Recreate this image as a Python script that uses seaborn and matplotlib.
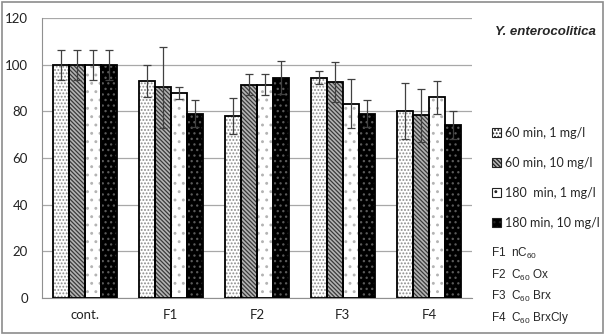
import numpy as np
import pandas as pd
import matplotlib
matplotlib.use("Agg")
import matplotlib.pyplot as plt
import seaborn as sns
from matplotlib.patches import Patch, Rectangle

# data
groups = ["cont.", "F1", "F2", "F3", "F4"]
series = ["60 min, 1 mg/l", "60 min, 10 mg/l", "180  min, 1 mg/l", "180 min, 10 mg/l"]
v_60_1 = [100, 93.0, 78.0, 94.5, 80.0]
v_60_10 = [100, 90.3, 91.5, 92.7, 78.3]
v_180_1 = [100, 88.0, 91.5, 83.3, 86.0]
v_180_10 = [100, 79.0, 94.5, 79.0, 74.0]
e_60_1 = [6.5, 7.0, 7.7, 2.9, 12.0]
e_60_10 = [6.5, 17.5, 4.5, 8.6, 11.4]
e_180_1 = [6.5, 2.6, 4.5, 10.5, 7.0]
e_180_10 = [6.5, 5.7, 7.2, 5.7, 6.0]
notes = ["F1  nC$\\mathregular{_{60}}$", "F2  C$\\mathregular{_{60}}$ Ox",
         "F3  C$\\mathregular{_{60}}$ Brx", "F4  C$\\mathregular{_{60}}$ BrxCly"]

vals = [v_60_1, v_60_10, v_180_1, v_180_10]
errs = [e_60_1, e_60_10, e_180_1, e_180_10]
df = pd.DataFrame({
    "group": groups * 4,
    "series": np.repeat(series, 5),
    "value": sum(vals, []),
})

# face colour, hatch colour, hatch
styles = [("white", "#8c8c8c", "....."),
          ("#b4b4b4", "#3a3a3a", "\\\\\\\\\\\\\\\\"),
          ("white", "#b4b4b4", ".."),
          ("black", "#5a5a5a", "...")]

sns.set_style("white")
plt.rcParams["font.family"] = ["Lato", "DejaVu Sans"]
plt.rcParams["hatch.linewidth"] = 0.9

fig = plt.figure(figsize=(6.05, 3.35), dpi=100)
ax = fig.add_axes([0.069, 0.110, 0.711, 0.836])

sns.barplot(data=df, x="group", y="value", hue="series", order=groups,
            hue_order=series, width=0.74, errorbar=None, ax=ax, legend=False,
            palette=["white"] * 4)

bar_sets = list(ax.containers)
for k, cont in enumerate(bar_sets):
    fc, hc, h = styles[k]
    xs, hs = [], []
    for p in cont:
        p.set_facecolor(fc)
        p.set_edgecolor(hc)
        p.set_hatch(h)
        p.set_linewidth(0)
        ax.add_patch(Rectangle(p.get_xy(), p.get_width(), p.get_height(),
                               fill=False, ec="black", lw=1.3, zorder=3))
        xs.append(p.get_x() + p.get_width() / 2)
        hs.append(p.get_height())
    ax.errorbar(xs, hs, yerr=errs[k], fmt="none", ecolor="#404040",
                elinewidth=0.9, capsize=3, capthick=0.9, zorder=4)

ax.set_ylim(0, 120)
ax.set_xlim(-0.5, 4.5)
ax.set_yticks(range(0, 121, 20))
ax.yaxis.grid(True, color="#a8a8a8", lw=0.9)
ax.set_axisbelow(True)
ax.set_xlabel("")
ax.set_ylabel("")
for s in ["top", "right"]:
    ax.spines[s].set_visible(False)
for s in ["left", "bottom"]:
    ax.spines[s].set_color("#909090")
ax.tick_params(axis="x", which="major", length=0, labelsize=9.5, colors="#222222", pad=8)
ax.set_xticks(np.arange(-0.5, 5, 1), minor=True)
ax.tick_params(axis="x", which="minor", length=4, color="#909090", direction="out")
ax.tick_params(axis="y", length=4, color="#909090", labelsize=9.5, colors="#222222", pad=6)

handles = [Patch(facecolor=fc, edgecolor="#222222", hatch=h, lw=0.8) for fc, hc, h in styles]
leg = fig.legend(handles, series, loc="upper left", bbox_to_anchor=(0.795, 0.655),
                 frameon=False, fontsize=9, handlelength=0.7, handleheight=0.7,
                 handletextpad=0.3, labelspacing=1.45)

fig.text(0.985, 0.905, "Y. enterocolitica", ha="right", va="center",
         fontsize=9.5, fontweight="bold", style="italic", family="Liberation Sans")
for i, t in enumerate(notes):
    fig.text(0.812, 0.242 - i * 0.064, t, ha="left", va="center", fontsize=8.5,
             family="Liberation Sans")

fig.patches.append(Rectangle((0.003, 0.005), 0.994, 0.99, transform=fig.transFigure,
                             fill=False, ec="#8c8c8c", lw=1.2))

fig.savefig("out.png", dpi=100)
